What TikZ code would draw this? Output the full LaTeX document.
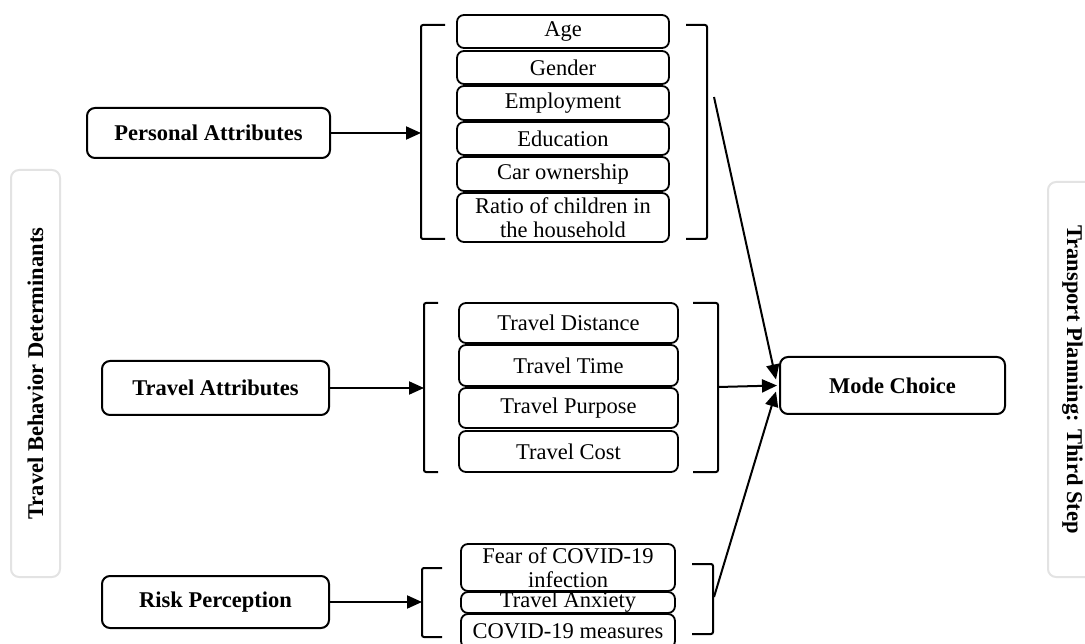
\documentclass[tikz,border=0pt]{standalone}
\usepackage{fontspec}
\setmainfont{Liberation Serif}
\usepackage{tikz}
\usetikzlibrary{arrows.meta}
\newcommand{\tfont}{\fontsize{22.5pt}{24.5pt}\selectfont}
\tikzset{
    head/.style={
           rectangle,
           rounded corners=8pt,
           draw=black, line width=2pt,
           inner sep=0pt,
           text centered,
           font=\tfont\bfseries,
           },
    item/.style={
           rectangle,
           rounded corners=7pt,
           draw=black, line width=1.8pt,
           inner sep=0pt,
           align=center,
           font=\tfont,
           },
    side/.style={
           rectangle,
           rounded corners=8pt,
           draw=black!11, line width=2pt,
           inner sep=0pt,
           font=\tfont\bfseries,
           },
    brack/.style={-, line width=2pt, rounded corners=2pt},
}

\begin{document}
\begin{tikzpicture}[->,>={Triangle[length=15pt,width=13pt]},line width=2pt,x=1pt,y=-1pt]
    \useasboundingbox (0,0) rectangle (1085,644);

    \node[side,rotate=90,minimum width=407pt,minimum height=49pt]
        (TBD) at (35.5,373.5) {Travel Behavior Determinants};
    \node[side,rotate=-90,minimum width=395pt,minimum height=49pt]
        (TPS) at (1072.5,379.5) {Transport Planning: Third Step};

    \node[head,minimum width=243pt,minimum height=50pt]
        (PA) at (208.5,133) {Personal Attributes};
    \node[head,minimum width=227pt,minimum height=54pt]
        (TA) at (215.5,388) {Travel Attributes};
    \node[head,minimum width=227pt,minimum height=52pt]
        (RP) at (215.5,602) {Risk Perception};
    \node[head,minimum width=225pt,minimum height=57pt]
        (MC) at (892.5,385.5) {Mode Choice};

    \node[item,minimum width=212pt,minimum height=33pt] (age) at (563,31.5) {Age};
    \node[item,minimum width=212pt,minimum height=33pt] (gender) at (563,67.5) {Gender};
    \node[item,minimum width=212pt,minimum height=34pt] (employ) at (563,103) {Employment};
    \node[item,minimum width=212pt,minimum height=33pt] (edu) at (563,138.5) {Education};
    \node[item,minimum width=212pt,minimum height=34pt] (car) at (563,174) {Car ownership};
    \node[item,minimum width=212pt,minimum height=49pt] (ratio) at (563,217.5) {Ratio of children in\\the household};

    \node[item,minimum width=219pt,minimum height=40pt] (dist) at (568.5,323) {Travel Distance};
    \node[item,minimum width=219pt,minimum height=41pt] (time) at (568.5,365.5) {Travel Time};
    \node[item,minimum width=219pt,minimum height=40pt] (purp) at (568.5,408) {Travel Purpose};
    \node[item,minimum width=219pt,minimum height=41pt] (cost) at (568.5,451.5) {Travel Cost};

    \node[item,minimum width=214pt,minimum height=47pt] (fear) at (568,567.5) {Fear of COVID-19\\infection};
    \node[item,minimum width=214pt,minimum height=21pt] (anx) at (568,602.5) {Travel Anxiety};
    \node[item,minimum width=214pt,minimum height=34pt] (meas) at (568,631) {COVID-19 measures};

    \draw[brack] (445,25) -- (421,25) -- (421,239) -- (445,239);
    \draw[brack] (686,25) -- (707,25) -- (707,239) -- (686,239);
    \draw[brack] (438,303) -- (424,303) -- (424,472) -- (438,472);
    \draw[brack] (693,303) -- (718,303) -- (718,472) -- (693,472);
    \draw[brack] (442,568) -- (422,568) -- (422,637) -- (442,637);
    \draw[brack] (692,564) -- (713,564) -- (713,634) -- (692,634);

    \coordinate (PBl) at (421,133);
    \coordinate (TBl) at (424,388);
    \coordinate (RBl) at (422,602);
    \coordinate (PBr) at (714,97);
    \coordinate (TBr) at (718,387);
    \coordinate (RBr) at (714,597);

    \path (PA) edge (PBl);
    \path (TA) edge (TBl);
    \path (RP) edge (RBl);
    \path (PBr) edge ([xshift=-3pt,yshift=6pt]MC.west);
    \path (TBr) edge ([xshift=-2pt]MC.west);
    \path (RBr) edge ([xshift=-3pt,yshift=-6pt]MC.west);

\end{tikzpicture}
\end{document}
